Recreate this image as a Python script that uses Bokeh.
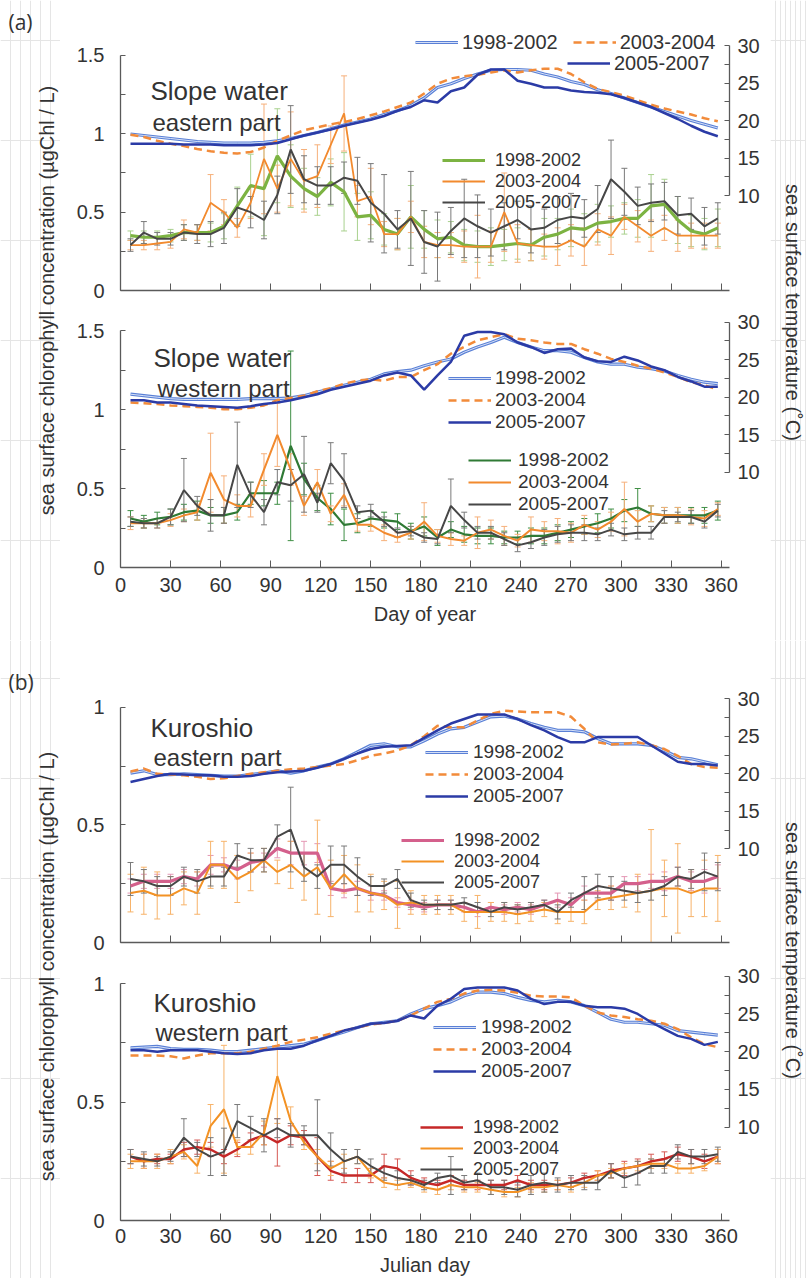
from bokeh.plotting import figure
from bokeh.models import (Range1d, LinearAxis, FixedTicker, Legend, LegendItem, Label,
                          ColumnDataSource, Whisker, TeeHead, NumeralTickFormatter)
from bokeh.layouts import column, row
from bokeh.embed import file_html
from bokeh.resources import INLINE

# 8-day composite centre days
DAYS = list(range(6, 366, 8))
PERIODS = ["1998-2002", "2003-2004", "2005-2007"]
X_TICKS = list(range(0, 361, 30))
CHL_TITLE = "sea surface chlorophyll concentration (\u00b5gChl / L)"
SST_TITLE = "sea surface temperature (\u02daC)"

# ---------------- Slope water, eastern part ----------------
SE_SST_9802 = [18.2, 18.0, 17.8, 17.6, 17.4, 17.2, 17.1, 17.0, 17.0, 17.0, 17.1, 17.3, 17.6, 18.0, 18.4,
               18.9, 19.4, 19.8, 20.2, 20.8, 21.3, 22.0, 23.0, 24.4, 24.9, 25.6, 26.2, 26.7, 26.8, 26.8,
               26.7, 26.2, 25.8, 25.2, 24.8, 24.1, 23.6, 23.0, 22.4, 21.8, 21.2, 20.6, 20.0, 19.5, 19.0]
SE_SST_0304 = [18.1, 17.8, 17.3, 16.9, 16.6, 16.2, 15.9, 15.7, 15.6, 15.8, 16.4, 17.3, 18.0, 18.7, 19.1,
               19.5, 19.8, 20.2, 20.7, 21.2, 21.8, 22.4, 23.6, 24.9, 25.6, 25.9, 26.1, 26.4, 26.7, 26.4,
               26.7, 26.9, 26.9, 26.2, 25.1, 24.2, 23.8, 23.3, 22.7, 22.1, 21.6, 21.2, 20.8, 20.3, 19.9]
SE_SST_0507 = [16.9, 16.9, 16.9, 16.9, 16.8, 16.8, 16.8, 16.7, 16.7, 16.7, 16.8, 17.0, 17.5, 18.0, 18.4,
               18.8, 19.3, 19.7, 20.1, 20.6, 21.3, 21.8, 22.7, 22.4, 23.9, 24.4, 26.1, 26.8, 26.8, 25.3,
               24.9, 24.4, 24.4, 24.0, 23.8, 23.7, 23.5, 23.0, 22.4, 21.8, 21.0, 20.2, 19.3, 18.5, 17.9]
SE_CHL_9802 = [0.35, 0.34, 0.34, 0.35, 0.37, 0.37, 0.37, 0.41, 0.54, 0.67, 0.65, 0.86, 0.73, 0.65, 0.60,
               0.69, 0.63, 0.47, 0.48, 0.39, 0.36, 0.47, 0.39, 0.33, 0.34, 0.29, 0.28, 0.28, 0.29, 0.30,
               0.29, 0.34, 0.36, 0.40, 0.39, 0.43, 0.44, 0.46, 0.46, 0.54, 0.55, 0.45, 0.38, 0.36, 0.40]
SE_CHL_0304 = [0.29, 0.29, 0.30, 0.31, 0.39, 0.37, 0.56, 0.50, 0.40, 0.56, 0.84, 0.65, 0.84, 0.70, 0.73,
               0.93, 1.13, 0.57, 0.60, 0.36, 0.36, 0.47, 0.31, 0.29, 0.29, 0.28, 0.28, 0.28, 0.50, 0.30,
               0.29, 0.28, 0.28, 0.32, 0.28, 0.39, 0.35, 0.47, 0.41, 0.35, 0.40, 0.35, 0.35, 0.35, 0.35]
SE_CHL_0507 = [0.29, 0.37, 0.33, 0.33, 0.37, 0.36, 0.36, 0.40, 0.53, 0.50, 0.45, 0.61, 0.90, 0.71, 0.67,
               0.67, 0.72, 0.70, 0.56, 0.49, 0.39, 0.46, 0.31, 0.28, 0.38, 0.46, 0.41, 0.37, 0.41, 0.45,
               0.39, 0.40, 0.45, 0.47, 0.46, 0.52, 0.71, 0.63, 0.54, 0.56, 0.57, 0.48, 0.49, 0.41, 0.46]
SE_ERR_9802 = [0.03, 0.04, 0.04, 0.04, 0.05, 0.05, 0.06, 0.08, 0.12, 0.20, 0.30, 0.30, 0.20, 0.13, 0.12,
               0.15, 0.25, 0.15, 0.15, 0.10, 0.10, 0.20, 0.12, 0.12, 0.10, 0.10, 0.10, 0.12, 0.10, 0.10,
               0.10, 0.12, 0.10, 0.12, 0.10, 0.12, 0.10, 0.10, 0.12, 0.20, 0.16, 0.15, 0.10, 0.10, 0.12]
SE_ERR_0304 = [0.03, 0.03, 0.04, 0.04, 0.06, 0.05, 0.18, 0.08, 0.06, 0.10, 0.35, 0.15, 0.30, 0.20, 0.20,
               0.12, 0.24, 0.10, 0.18, 0.08, 0.10, 0.10, 0.10, 0.08, 0.08, 0.10, 0.20, 0.10, 0.25, 0.12,
               0.10, 0.08, 0.12, 0.10, 0.12, 0.10, 0.12, 0.08, 0.10, 0.10, 0.08, 0.10, 0.08, 0.08, 0.08]
SE_ERR_0507 = [0.04, 0.07, 0.04, 0.04, 0.05, 0.06, 0.08, 0.10, 0.12, 0.10, 0.12, 0.12, 0.28, 0.15, 0.12,
               0.12, 0.10, 0.15, 0.25, 0.25, 0.12, 0.30, 0.20, 0.22, 0.15, 0.25, 0.20, 0.15, 0.15, 0.12,
               0.15, 0.12, 0.15, 0.15, 0.12, 0.15, 0.25, 0.15, 0.12, 0.12, 0.12, 0.12, 0.10, 0.12, 0.10]

# ---------------- Slope water, western part ----------------
SW_SST_9802 = [20.4, 20.2, 20.0, 19.8, 19.7, 19.7, 19.7, 19.7, 19.7, 19.8, 19.8, 19.8, 19.9, 20.2, 20.7,
               21.1, 21.6, 22.0, 22.4, 23.1, 23.4, 23.6, 24.2, 24.7, 25.1, 26.0, 26.7, 27.3, 28.0, 27.3,
               26.7, 26.2, 26.2, 26.0, 25.3, 24.7, 24.4, 24.4, 24.0, 23.8, 23.5, 22.9, 22.4, 22.0, 21.8]
SW_SST_0304 = [19.3, 19.2, 19.1, 18.9, 18.8, 18.7, 18.6, 18.4, 18.4, 18.6, 18.9, 19.6, 19.9, 20.2, 20.8,
               21.2, 21.8, 22.2, 22.4, 22.2, 22.7, 22.7, 23.6, 24.4, 25.8, 26.7, 27.6, 28.0, 28.4, 27.8,
               27.6, 27.3, 27.1, 27.1, 26.4, 25.8, 25.1, 24.7, 24.2, 23.8, 23.3, 22.7, 22.0, 21.6, 21.0]
SW_SST_0507 = [19.6, 19.6, 19.3, 19.3, 19.1, 18.9, 18.8, 18.7, 18.6, 18.8, 19.1, 19.3, 19.6, 20.0, 20.4,
               21.0, 21.4, 21.8, 22.2, 22.9, 23.3, 22.9, 21.0, 22.9, 24.7, 28.2, 28.7, 28.7, 28.4, 27.3,
               26.7, 25.9, 26.4, 26.5, 25.3, 24.8, 24.7, 25.4, 24.9, 24.1, 23.6, 22.7, 22.1, 21.4, 21.4]
SW_CHL_9802 = [0.31, 0.29, 0.31, 0.32, 0.35, 0.36, 0.33, 0.33, 0.35, 0.47, 0.47, 0.47, 0.77, 0.56, 0.44,
               0.37, 0.27, 0.28, 0.31, 0.30, 0.29, 0.23, 0.26, 0.19, 0.24, 0.21, 0.20, 0.20, 0.19, 0.19,
               0.20, 0.20, 0.22, 0.24, 0.26, 0.28, 0.31, 0.36, 0.38, 0.34, 0.33, 0.33, 0.33, 0.33, 0.36]
SW_CHL_0304 = [0.28, 0.28, 0.28, 0.30, 0.33, 0.35, 0.60, 0.43, 0.39, 0.39, 0.62, 0.84, 0.62, 0.39, 0.54,
               0.34, 0.46, 0.27, 0.27, 0.22, 0.19, 0.22, 0.29, 0.20, 0.18, 0.17, 0.22, 0.24, 0.20, 0.17,
               0.24, 0.23, 0.23, 0.22, 0.27, 0.24, 0.29, 0.37, 0.29, 0.34, 0.33, 0.33, 0.32, 0.31, 0.37]
SW_CHL_0507 = [0.29, 0.28, 0.28, 0.32, 0.49, 0.39, 0.33, 0.33, 0.65, 0.46, 0.35, 0.54, 0.52, 0.59, 0.41,
               0.66, 0.55, 0.35, 0.36, 0.29, 0.22, 0.23, 0.19, 0.18, 0.39, 0.30, 0.22, 0.22, 0.18, 0.14,
               0.16, 0.19, 0.21, 0.22, 0.22, 0.21, 0.24, 0.21, 0.22, 0.22, 0.32, 0.32, 0.32, 0.29, 0.36]
SW_ERR_9802 = [0.05, 0.04, 0.04, 0.05, 0.05, 0.06, 0.05, 0.05, 0.05, 0.07, 0.08, 0.07, 0.60, 0.10, 0.08,
               0.10, 0.10, 0.06, 0.05, 0.05, 0.05, 0.05, 0.06, 0.05, 0.05, 0.05, 0.05, 0.05, 0.04, 0.04,
               0.05, 0.05, 0.05, 0.05, 0.05, 0.06, 0.06, 0.07, 0.12, 0.05, 0.05, 0.05, 0.05, 0.05, 0.06]
SW_ERR_0304 = [0.04, 0.03, 0.03, 0.04, 0.04, 0.05, 0.25, 0.15, 0.07, 0.07, 0.10, 0.20, 0.10, 0.06, 0.08,
               0.05, 0.07, 0.04, 0.04, 0.05, 0.03, 0.04, 0.12, 0.04, 0.04, 0.03, 0.10, 0.06, 0.06, 0.04,
               0.08, 0.06, 0.08, 0.06, 0.06, 0.05, 0.06, 0.17, 0.07, 0.05, 0.05, 0.05, 0.05, 0.05, 0.04]
SW_ERR_0507 = [0.03, 0.03, 0.03, 0.05, 0.20, 0.06, 0.10, 0.05, 0.27, 0.08, 0.08, 0.08, 0.10, 0.24, 0.06,
               0.13, 0.17, 0.04, 0.04, 0.03, 0.03, 0.03, 0.03, 0.03, 0.17, 0.05, 0.04, 0.04, 0.04, 0.04,
               0.04, 0.05, 0.05, 0.05, 0.05, 0.04, 0.04, 0.04, 0.04, 0.04, 0.04, 0.03, 0.04, 0.04, 0.04]

# ---------------- Kuroshio, eastern part ----------------
KE_SST_9802 = [20.1, 20.4, 19.9, 19.9, 20.0, 19.9, 19.8, 19.7, 19.7, 19.9, 20.1, 20.4, 20.1, 20.4, 20.9,
               21.3, 22.0, 22.9, 23.8, 24.0, 23.6, 23.6, 24.4, 25.3, 26.0, 26.2, 26.9, 27.6, 27.7, 27.3,
               26.7, 26.2, 25.8, 25.8, 25.6, 24.7, 24.0, 24.0, 24.0, 23.8, 23.1, 22.2, 22.0, 21.6, 21.2]
KE_SST_0304 = [20.3, 20.7, 20.0, 19.9, 19.8, 19.6, 19.3, 19.4, 19.7, 20.0, 20.2, 20.4, 20.6, 20.7, 20.9,
               21.1, 21.3, 21.8, 22.4, 22.7, 23.1, 23.8, 25.0, 26.4, 26.2, 26.2, 27.1, 28.0, 28.4, 28.3,
               28.2, 28.2, 28.2, 27.6, 26.0, 24.2, 23.9, 24.0, 24.2, 23.8, 23.3, 22.4, 21.3, 20.9, 20.8]
KE_SST_0507 = [18.9, 19.3, 19.7, 20.0, 19.9, 19.8, 19.8, 19.6, 19.6, 19.7, 20.0, 20.2, 20.3, 20.4, 20.8,
               21.3, 22.0, 22.7, 23.3, 23.6, 23.7, 23.8, 24.8, 25.8, 26.7, 27.3, 27.9, 27.9, 27.9, 27.3,
               26.5, 25.8, 24.9, 24.2, 24.2, 24.9, 24.9, 24.9, 24.9, 23.8, 22.7, 21.6, 21.3, 21.3, 21.1]
KE_CHL_9802 = [0.24, 0.26, 0.26, 0.26, 0.28, 0.27, 0.33, 0.33, 0.31, 0.34, 0.35, 0.40, 0.38, 0.38, 0.38,
               0.23, 0.22, 0.23, 0.21, 0.20, 0.17, 0.16, 0.15, 0.16, 0.16, 0.15, 0.13, 0.15, 0.14, 0.15,
               0.14, 0.16, 0.18, 0.16, 0.21, 0.21, 0.21, 0.25, 0.25, 0.26, 0.26, 0.28, 0.26, 0.26, 0.28]
KE_CHL_0304 = [0.21, 0.22, 0.20, 0.20, 0.23, 0.21, 0.33, 0.33, 0.27, 0.30, 0.35, 0.30, 0.33, 0.28, 0.32,
               0.23, 0.29, 0.23, 0.21, 0.20, 0.16, 0.17, 0.16, 0.16, 0.16, 0.13, 0.13, 0.13, 0.13, 0.12,
               0.13, 0.14, 0.13, 0.13, 0.13, 0.18, 0.19, 0.20, 0.21, 0.22, 0.23, 0.23, 0.21, 0.23, 0.23]
KE_CHL_0507 = [0.27, 0.26, 0.24, 0.24, 0.28, 0.26, 0.28, 0.28, 0.37, 0.35, 0.35, 0.45, 0.48, 0.32, 0.28,
               0.33, 0.33, 0.28, 0.24, 0.24, 0.27, 0.18, 0.16, 0.16, 0.16, 0.17, 0.15, 0.13, 0.15, 0.14,
               0.15, 0.16, 0.13, 0.18, 0.21, 0.24, 0.23, 0.22, 0.21, 0.22, 0.24, 0.28, 0.27, 0.30, 0.28]
KE_ERR_9802 = [0.03, 0.03, 0.03, 0.03, 0.03, 0.03, 0.04, 0.03, 0.04, 0.04, 0.03, 0.04, 0.05, 0.05, 0.04,
               0.03, 0.03, 0.03, 0.03, 0.02, 0.02, 0.02, 0.02, 0.02, 0.02, 0.02, 0.02, 0.02, 0.02, 0.02,
               0.02, 0.02, 0.03, 0.03, 0.03, 0.03, 0.03, 0.03, 0.03, 0.03, 0.04, 0.04, 0.04, 0.05, 0.05]
KE_ERR_0304 = [0.08, 0.10, 0.10, 0.08, 0.07, 0.09, 0.10, 0.10, 0.10, 0.08, 0.05, 0.05, 0.10, 0.10, 0.20,
               0.12, 0.08, 0.10, 0.08, 0.06, 0.10, 0.05, 0.04, 0.04, 0.04, 0.04, 0.07, 0.04, 0.04, 0.04,
               0.04, 0.03, 0.05, 0.04, 0.05, 0.04, 0.05, 0.05, 0.08, 0.26, 0.12, 0.19, 0.10, 0.12, 0.14]
KE_ERR_0507 = [0.07, 0.05, 0.04, 0.04, 0.04, 0.05, 0.04, 0.04, 0.05, 0.05, 0.05, 0.05, 0.18, 0.06, 0.05,
               0.08, 0.08, 0.08, 0.04, 0.03, 0.04, 0.03, 0.02, 0.02, 0.02, 0.02, 0.02, 0.02, 0.02, 0.02,
               0.02, 0.02, 0.03, 0.03, 0.07, 0.05, 0.05, 0.04, 0.04, 0.04, 0.04, 0.04, 0.04, 0.08, 0.06]

# ---------------- Kuroshio, western part ----------------
KW_SST_9802 = [20.5, 20.6, 20.7, 20.4, 20.3, 20.3, 20.2, 20.0, 20.0, 20.2, 20.4, 20.6, 20.8, 21.0, 21.5,
               22.1, 22.6, 23.2, 23.7, 23.9, 24.1, 25.0, 25.7, 26.1, 26.6, 27.4, 27.9, 27.9, 27.7, 27.2,
               26.8, 26.6, 26.8, 26.6, 26.1, 25.2, 24.3, 23.9, 23.9, 23.7, 23.5, 22.8, 22.6, 22.4, 22.2]
KW_SST_0304 = [19.5, 19.5, 19.5, 19.4, 19.1, 19.5, 19.8, 19.8, 19.8, 20.0, 20.4, 20.8, 21.3, 21.6, 21.9,
               22.4, 22.8, 23.2, 23.6, 23.8, 24.1, 24.8, 25.7, 26.6, 27.0, 27.7, 28.1, 28.2, 28.1, 27.8,
               27.4, 27.3, 27.3, 27.2, 26.1, 25.2, 24.8, 24.6, 24.3, 24.1, 23.7, 23.0, 21.9, 21.0, 20.6]
KW_SST_0507 = [20.2, 20.2, 20.0, 20.2, 20.2, 20.2, 20.0, 19.8, 19.7, 19.8, 20.2, 20.4, 20.4, 20.8, 21.5,
               22.1, 22.8, 23.2, 23.7, 23.8, 24.1, 24.8, 24.4, 26.1, 27.0, 28.3, 28.5, 28.5, 28.5, 28.1,
               27.0, 26.3, 26.6, 26.6, 26.1, 25.9, 25.9, 25.7, 25.0, 23.9, 23.0, 22.1, 21.7, 20.9, 21.3]
KW_CHL_9802 = [0.27, 0.25, 0.26, 0.26, 0.30, 0.31, 0.30, 0.27, 0.30, 0.34, 0.36, 0.33, 0.36, 0.35, 0.27,
               0.21, 0.19, 0.19, 0.19, 0.23, 0.22, 0.18, 0.16, 0.15, 0.17, 0.15, 0.15, 0.15, 0.15, 0.17,
               0.15, 0.15, 0.15, 0.16, 0.18, 0.19, 0.21, 0.22, 0.23, 0.25, 0.26, 0.28, 0.27, 0.25, 0.27]
KW_CHL_0304 = [0.25, 0.25, 0.25, 0.27, 0.29, 0.23, 0.40, 0.47, 0.31, 0.31, 0.37, 0.61, 0.42, 0.33, 0.27,
               0.22, 0.25, 0.27, 0.20, 0.16, 0.15, 0.16, 0.14, 0.13, 0.15, 0.14, 0.14, 0.13, 0.12, 0.12,
               0.14, 0.14, 0.15, 0.14, 0.16, 0.19, 0.20, 0.22, 0.23, 0.24, 0.24, 0.22, 0.22, 0.23, 0.27]
KW_CHL_0507 = [0.27, 0.26, 0.25, 0.27, 0.35, 0.30, 0.27, 0.29, 0.42, 0.39, 0.36, 0.39, 0.36, 0.36, 0.36,
               0.30, 0.25, 0.27, 0.23, 0.20, 0.18, 0.17, 0.15, 0.18, 0.19, 0.16, 0.17, 0.14, 0.14, 0.13,
               0.15, 0.16, 0.15, 0.16, 0.16, 0.16, 0.21, 0.18, 0.20, 0.23, 0.23, 0.29, 0.27, 0.27, 0.28]
KW_ERR_9802 = [0.03, 0.03, 0.02, 0.02, 0.03, 0.03, 0.03, 0.03, 0.03, 0.03, 0.04, 0.10, 0.04, 0.03, 0.08,
               0.04, 0.03, 0.03, 0.03, 0.05, 0.04, 0.03, 0.02, 0.02, 0.02, 0.02, 0.02, 0.02, 0.02, 0.02,
               0.02, 0.02, 0.02, 0.02, 0.02, 0.02, 0.03, 0.03, 0.03, 0.03, 0.03, 0.03, 0.03, 0.03, 0.03]
KW_ERR_0304 = [0.03, 0.03, 0.03, 0.03, 0.03, 0.03, 0.09, 0.27, 0.03, 0.03, 0.05, 0.20, 0.06, 0.03, 0.03,
               0.03, 0.03, 0.03, 0.02, 0.02, 0.02, 0.02, 0.02, 0.02, 0.02, 0.02, 0.02, 0.02, 0.02, 0.02,
               0.02, 0.02, 0.02, 0.02, 0.02, 0.02, 0.02, 0.02, 0.02, 0.02, 0.02, 0.02, 0.02, 0.02, 0.03]
KW_ERR_0507 = [0.03, 0.03, 0.02, 0.02, 0.08, 0.03, 0.08, 0.10, 0.07, 0.05, 0.07, 0.04, 0.05, 0.04, 0.15,
               0.07, 0.05, 0.03, 0.03, 0.03, 0.03, 0.02, 0.02, 0.02, 0.08, 0.03, 0.03, 0.03, 0.03, 0.03,
               0.04, 0.04, 0.03, 0.03, 0.03, 0.03, 0.03, 0.04, 0.05, 0.03, 0.03, 0.03, 0.03, 0.03, 0.03]

FONT = "Liberation Sans"
TXT = "#333333"
AXIS = "#5a5a5a"

# page geometry of the plotting frames (pixels)
X0_PAGE, X1_PAGE, X_MAX = 120, 729, 365
FIG_LEFT_PAGE, FIG_W = 60, 710
X_PX = (X1_PAGE - X0_PAGE) / X_MAX

SST_STYLE = [dict(color="#5a80d6", inner="#d6e0f7", width=3.2, dash="solid"),
             dict(color="#f28b3a", inner=None, width=2.5, dash="8 5"),
             dict(color="#2b3ba6", inner=None, width=2.5, dash="solid")]


def make_panel(spec):
    pt, h = spec["page_top"], spec["height"]
    ft, fb = spec["frame_top"], spec["frame_bottom"]
    chl_px = spec["chl_px"]
    s30, s10 = spec["sst30"], spec["sst10"]
    sst_px = (s10 - s30) / 20.0
    p = figure(width=FIG_W, height=h,
               x_range=Range1d(0, X_MAX), y_range=Range1d(0, (fb - ft) / chl_px),
               min_border_left=X0_PAGE - FIG_LEFT_PAGE,
               min_border_right=FIG_LEFT_PAGE + FIG_W - X1_PAGE,
               min_border_top=ft - pt, min_border_bottom=pt + h - fb,
               toolbar_location=None, output_backend="svg", outline_line_color=None)
    p.grid.visible = False
    p.extra_y_ranges = {"sst": Range1d(10 - (fb - s10) / sst_px, 30 + (s30 - ft) / sst_px)}

    def style(ax):
        ax.axis_line_color = AXIS
        ax.axis_line_width = 1.3
        ax.major_tick_line_color = AXIS
        ax.minor_tick_line_color = AXIS
        ax.major_tick_out = 0
        ax.minor_tick_out = 0
        ax.major_tick_in = 5
        ax.minor_tick_in = 5
        ax.major_label_text_font = FONT
        ax.major_label_text_font_size = "20px"
        ax.major_label_text_color = TXT

    # chlorophyll axis (left)
    ya = p.yaxis[0]
    style(ya)
    ya.ticker = FixedTicker(ticks=spec["chl_ticks"], minor_ticks=spec["chl_minor"])
    ya.bounds = (0, spec["chl_ticks"][-1])
    ya.formatter = NumeralTickFormatter(format="0.[0]")
    ya.major_label_standoff = 16

    # temperature axis (right)
    ra = LinearAxis(y_range_name="sst", bounds=(10, 30),
                    ticker=FixedTicker(ticks=[10, 15, 20, 25, 30], minor_ticks=[12.5, 17.5, 22.5, 27.5]))
    style(ra)
    ra.major_label_standoff = 8
    p.add_layout(ra, "right")

    # day axis: labelled below the lower panel of a pair, tick marks only on the upper one
    xa = p.xaxis[0]
    style(xa)
    if spec["x_title"]:
        xa.ticker = FixedTicker(ticks=X_TICKS, minor_ticks=[])
        xa.major_tick_in = 7
        xa.axis_label = spec["x_title"]
        xa.axis_label_text_font = FONT
        xa.axis_label_text_font_size = "20px"
        xa.axis_label_text_font_style = "normal"
        xa.axis_label_text_color = TXT
        xa.major_label_standoff = spec["x_standoff"]
        xa.axis_label_standoff = 8
    else:
        xa.ticker = FixedTicker(ticks=[], minor_ticks=X_TICKS)
        xa.minor_tick_in = 7

    # chlorophyll series with error bars
    chl_r = []
    for vals, errs, col, ecol, w in spec["chl"]:
        assert len(vals) == len(DAYS) and len(errs) == len(DAYS)
        src = ColumnDataSource(dict(x=DAYS, y=vals,
                                    lo=[v - e for v, e in zip(vals, errs)],
                                    up=[v + e for v, e in zip(vals, errs)]))
        wk = Whisker(source=src, base="x", lower="lo", upper="up", line_color=ecol, line_width=1,
                     level="underlay",
                     lower_head=TeeHead(size=6, line_color=ecol, line_width=1),
                     upper_head=TeeHead(size=6, line_color=ecol, line_width=1))
        p.add_layout(wk)
        chl_r.append(p.line("x", "y", source=src, line_color=col, line_width=w))

    # temperature series
    sst_r = []
    for vals, st in zip(spec["sst"], SST_STYLE):
        assert len(vals) == len(DAYS)
        rs = [p.line(DAYS, vals, y_range_name="sst", line_color=st["color"],
                     line_width=st["width"], line_dash=st["dash"])]
        if st["inner"]:
            rs.append(p.line(DAYS, vals, y_range_name="sst", line_color=st["inner"], line_width=1.0))
        sst_r.append(rs)

    def add_legend(entries, left, center_y, font_px, standoff, glyph_w=43, orientation="vertical"):
        n = len(entries)
        row_h = round(font_px * 1.15)
        box_h = n * row_h if orientation == "vertical" else row_h
        bottom = center_y - row_h / 2 + box_h
        lg = Legend(items=[LegendItem(label=l, renderers=r) for l, r in entries],
                    location=(left - X0_PAGE, fb - bottom), orientation=orientation,
                    spacing=0 if orientation == "vertical" else 15,
                    padding=0, margin=0, label_standoff=standoff,
                    glyph_width=glyph_w, glyph_height=16, label_height=16,
                    label_text_font=FONT, label_text_font_size=f"{font_px}px", label_text_color=TXT,
                    background_fill_alpha=0, border_line_alpha=0)
        p.add_layout(lg)

    lab = PERIODS
    for leg in spec["sst_legends"]:
        idx, left, cy, fpx, so, orient = leg
        add_legend([(lab[i], sst_r[i]) for i in idx], left, cy, fpx, so, orientation=orient)
    left, cy, fpx, so = spec["chl_legend"]
    add_legend([(lab[i], [chl_r[i]]) for i in range(3)], left, cy, fpx, so)

    # region names
    for txt, px, py, size in spec["names"]:
        p.add_layout(Label(x=(px - X0_PAGE) / X_PX, y=(fb - py) / chl_px, text=txt,
                           text_font=FONT, text_font_size=size, text_color=TXT,
                           text_align="left", text_baseline="middle"))
    return p


def side_fig(width, height, texts):
    f = figure(width=width, height=height, x_range=Range1d(0, width), y_range=Range1d(0, height),
               min_border=0, toolbar_location=None, output_backend="svg",
               outline_line_color=None, x_axis_location=None, y_axis_location=None)
    for txt, x, y, angle, size, font, align in texts:
        f.add_layout(Label(x=x, y=height - y, text=txt, angle=angle, angle_units="deg",
                           text_align=align, text_baseline="middle", text_font=font,
                           text_font_size=size, text_color=TXT))
    return f


C_BLACK, E_BLACK = "#474747", "#7a7a7a"
C_ORANGE, E_ORANGE = "#f28a2e", "#f6b07a"

p1 = make_panel(dict(
    page_top=0, height=300, frame_top=30, frame_bottom=290, chl_px=156.67, sst30=45, sst10=195,
    chl_ticks=[0, 0.5, 1, 1.5], chl_minor=[0.25, 0.75, 1.25], x_title=None,
    chl=[(SE_CHL_9802, SE_ERR_9802, "#7cb342", "#a9d18e", 3.2),
         (SE_CHL_0304, SE_ERR_0304, C_ORANGE, E_ORANGE, 1.8),
         (SE_CHL_0507, SE_ERR_0507, C_BLACK, E_BLACK, 2.0)],
    sst=[SE_SST_9802, SE_SST_0304, SE_SST_0507],
    sst_legends=[([0, 1], 415, 42, 20, 4, "horizontal"), ([2], 567, 63, 20, 4, "vertical")],
    chl_legend=(442, 160, 18, 10),
    names=[("Slope water", 150, 90, "26px"), ("eastern part", 152, 122, "24px")]))

p2 = make_panel(dict(
    page_top=300, height=340, frame_top=310, frame_bottom=567, chl_px=158.0, sst30=321.7, sst10=471.7,
    chl_ticks=[0, 0.5, 1, 1.5], chl_minor=[0.25, 0.75, 1.25], x_title="Day of year", x_standoff=10,
    chl=[(SW_CHL_9802, SW_ERR_9802, "#2f7a35", "#3f8f45", 2.2),
         (SW_CHL_0304, SW_ERR_0304, C_ORANGE, E_ORANGE, 2.0),
         (SW_CHL_0507, SW_ERR_0507, C_BLACK, E_BLACK, 2.0)],
    sst=[SW_SST_9802, SW_SST_0304, SW_SST_0507],
    sst_legends=[([0, 1, 2], 448, 378, 19, 4, "vertical")],
    chl_legend=(468, 460, 19, 7),
    names=[("Slope water", 153, 357, "26px"), ("western part", 157, 388, "24px")]))

p3 = make_panel(dict(
    page_top=640, height=312, frame_top=690, frame_bottom=942, chl_px=235.3, sst30=698.3, sst10=848.3,
    chl_ticks=[0, 0.5, 1], chl_minor=[0.25, 0.75], x_title=None,
    chl=[(KE_CHL_9802, KE_ERR_9802, "#d4608c", "#e497b4", 3.2),
         (KE_CHL_0304, KE_ERR_0304, "#f39224", "#f7b36a", 2.0),
         (KE_CHL_0507, KE_ERR_0507, C_BLACK, E_BLACK, 2.0)],
    sst=[KE_SST_9802, KE_SST_0304, KE_SST_0507],
    sst_legends=[([0, 1, 2], 425, 752, 19, 5, "vertical")],
    chl_legend=(401, 840, 18, 10),
    names=[("Kuroshio", 150, 727, "26px"), ("eastern part", 153, 757, "24px")]))

p4 = make_panel(dict(
    page_top=952, height=326, frame_top=965, frame_bottom=1220, chl_px=236.7, sst30=975.7, sst10=1126.7,
    chl_ticks=[0, 0.5, 1], chl_minor=[0.25, 0.75], x_title="Julian day", x_standoff=8,
    chl=[(KW_CHL_9802, KW_ERR_9802, "#c62828", "#d65a55", 2.4),
         (KW_CHL_0304, KW_ERR_0304, "#f39224", "#f7b36a", 2.0),
         (KW_CHL_0507, KW_ERR_0507, C_BLACK, E_BLACK, 2.0)],
    sst=[KW_SST_9802, KW_SST_0304, KW_SST_0507],
    sst_legends=[([0, 1, 2], 433, 1027, 19, 5, "vertical")],
    chl_legend=(420, 1127, 18, 10),
    names=[("Kuroshio", 153, 1002, "26px"), ("western part", 155, 1032, "24px")]))

left_a = side_fig(60, 640, [("(a)", 8, 21, 0, "21px", "Open Sans", "left"),
                            (CHL_TITLE, 46, 300, 90, "20px", FONT, "center")])
right_a = side_fig(36, 640, [(SST_TITLE, 22, 312, -90, "20px", FONT, "center")])
left_b = side_fig(60, 638, [("(b)", 8, 41, 0, "21px", "Open Sans", "left"),
                            (CHL_TITLE, 46, 326, 90, "20px", FONT, "center")])
right_b = side_fig(36, 638, [(SST_TITLE, 22, 310, -90, "20px", FONT, "center")])

layout = column(row(left_a, column(p1, p2), right_a),
                row(left_b, column(p3, p4), right_b))

open("out.html", "w").write(file_html(layout, INLINE))
